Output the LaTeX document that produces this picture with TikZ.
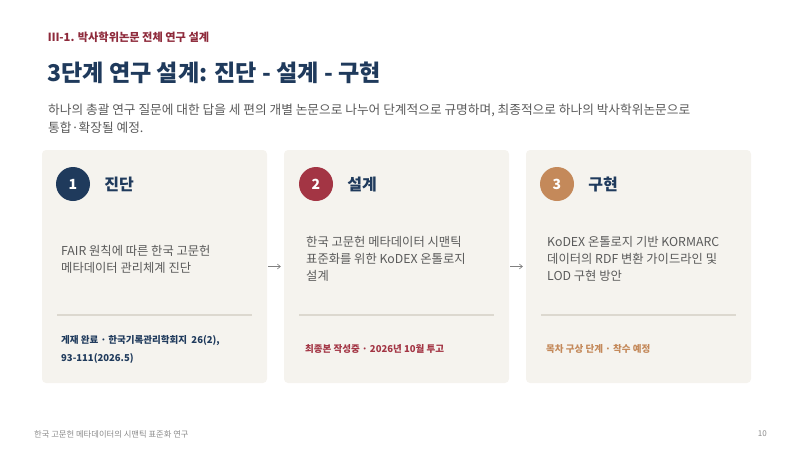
\documentclass[tikz,border=0pt]{standalone}
\usepackage{fontspec}
\setmainfont{Noto Sans CJK KR}
\usetikzlibrary{positioning,arrows.meta}
\definecolor{navy}{HTML}{1F3A5C}
\definecolor{wine}{HTML}{A33544}
\definecolor{headred}{HTML}{8E2A3B}
\definecolor{ochre}{HTML}{C4895A}
\definecolor{cardbg}{HTML}{F5F3EE}
\definecolor{bodygray}{HTML}{5A5A5A}
\definecolor{rulegray}{HTML}{DCD8CF}
\definecolor{footgray}{HTML}{8A8A8A}

\begin{document}
\begin{tikzpicture}[x=1pt,y=-1pt,
    card/.style={fill=cardbg, rounded corners=4pt, minimum width=225pt, minimum height=233pt, inner sep=0pt},
    stepnum/.style={circle, minimum size=34pt, inner sep=0pt, text=white, font=\fontsize{14}{16}\selectfont\bfseries},
    stephead/.style={anchor=west, inner sep=0pt, text=navy, font=\fontsize{16}{18}\selectfont\bfseries},
    body/.style={anchor=west, align=left, inner sep=0pt, text=bodygray, font=\fontsize{12.3}{17}\selectfont},
    status/.style={anchor=west, align=left, inner sep=0pt, font=\fontsize{9.5}{18}\selectfont\bfseries},
    sepline/.style={rulegray, line width=1.2pt},
    flowarrow/.style={-{Straight Barb[length=3pt,width=5pt]}, gray, line width=0.6pt, shorten <=1pt, shorten >=3pt}
  ]
  \useasboundingbox (0,0) rectangle (800,450);

  % header
  \node[anchor=west, inner sep=0pt, text=headred, font=\fontsize{11.2}{13}\selectfont\bfseries] (section) at (48,37) {Ⅲ-1. 박사학위논문 전체 연구 설계};
  \node[anchor=west, inner sep=0pt, text=navy, font=\fontsize{23.1}{27}\selectfont\bfseries] (title) at (47,73) {3단계 연구 설계: 진단 - 설계 - 구현};
  \node[anchor=west, align=left, inner sep=0pt, text=bodygray, font=\fontsize{12.7}{18}\selectfont] (lead) at (48,119)
    {하나의 총괄 연구 질문에 대한 답을 세 편의 개별 논문으로 나누어 단계적으로 규명하며, 최종적으로 하나의 박사학위논문으로\\
     통합·확장될 예정.};

  % cards
  \node[card] (c1) at (154.5,266.5) {};
  \node[card] (c2) at (396.5,266.5) {};
  \node[card] (c3) at (638.5,266.5) {};

  % step 1
  \node[stepnum, fill=navy] (n1) at (73,184) {1};
  \node[stephead, right=14pt of n1] (h1) {진단};
  \node[body] (b1) at (61,259) {FAIR 원칙에 따른 한국 고문헌\\메타데이터 관리체계 진단};
  \draw[sepline] (57,315) -- (252,315);
  \node[status, text=navy] (s1) at (61,349) {게재 완료 · 한국기록관리학회지 \ 26(2),\\93-111(2026.5)};

  % step 2
  \node[stepnum, fill=wine] (n2) at (316,184) {2};
  \node[stephead, right=14pt of n2] (h2) {설계};
  \node[body] (b2) at (306,259) {한국 고문헌 메타데이터 시맨틱\\표준화를 위한 KoDEX 온톨로지\\설계};
  \draw[sepline] (299,315) -- (494,315);
  \node[status, text=wine] (s2) at (305,349) {최종본 작성중 · 2026년 10월 투고};

  % step 3
  \node[stepnum, fill=ochre] (n3) at (557,184) {3};
  \node[stephead, right=14pt of n3] (h3) {구현};
  \node[body] (b3) at (547,259) {KoDEX 온톨로지 기반 KORMARC\\데이터의 RDF 변환 가이드라인 및\\LOD 구현 방안};
  \draw[sepline] (541,315) -- (736,315);
  \node[status, text=ochre] (s3) at (546,349) {목차 구상 단계 · 착수 예정};

  % flow
  \draw[flowarrow] (c1) -- (c2);
  \draw[flowarrow] (c2) -- (c3);

  % footer
  \node[anchor=west, inner sep=0pt, text=footgray, font=\fontsize{8.3}{10}\selectfont] (foot) at (34,434) {한국 고문헌 메타데이터의 시맨틱 표준화 연구};
  \node[anchor=east, inner sep=0pt, text=footgray, font=\fontsize{8}{10}\selectfont] (page) at (767,434) {10};
\end{tikzpicture}
\end{document}
